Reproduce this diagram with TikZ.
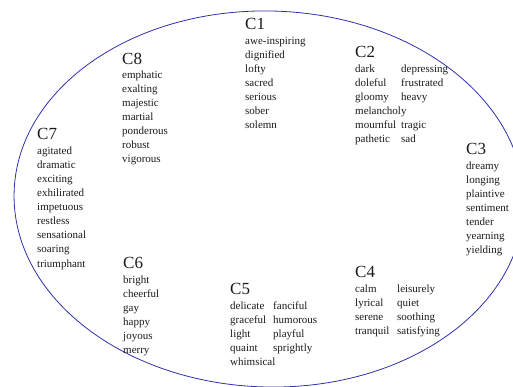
\documentclass[tikz,border=0pt]{standalone}
\usepackage{fontspec}
\setmainfont{Liberation Serif}
\usepackage{tikz}
\usetikzlibrary{positioning, calc}
\definecolor{rimA}{RGB}{48,48,170}
\definecolor{inkA}{HTML}{1A1A1A}
\tikzset{
  head/.style={
    anchor=base west, inner sep=0pt, text=inkA,
    font=\fontsize{17}{20}\selectfont
  },
  words/.style={
    anchor=base west, inner sep=0pt, text=inkA,
    font=\fontsize{11}{14}\selectfont
  },
  rim/.style={draw=rimA, line width=0.8pt}
}

\begin{document}
\begin{tikzpicture}[x=1pt, y=-1pt]
  \useasboundingbox (0,0) rectangle (513,387);
  \clip (0,0) rectangle (513,387);
  \draw[rim, rotate around={-1.5:(269,199)}] (269,199) ellipse [x radius=255, y radius=188];

  % cluster headings
  \node[head] (c1) at (245,30) {C1};
  \node[head] (c2) at (355,58) {C2};
  \node[head] (c3) at (466,155) {C3};
  \node[head] (c4) at (355,277) {C4};
  \node[head] (c5) at (230,294) {C5};
  \node[head] (c6) at (123,268) {C6};
  \node[head] (c7) at (37,140) {C7};
  \node[head] (c8) at (122,65) {C8};

  % adjective lists
  \node[words] (w1) at ([yshift=-15pt]c1.base west) {\begin{tabular}[t]{@{}l@{}}
    awe-inspiring\\ dignified\\ lofty\\ sacred\\ serious\\ sober\\ solemn
  \end{tabular}};
  \node[words] (w2) at ([yshift=-15pt]c2.base west) {\begin{tabular}[t]{@{}p{46pt}@{}l@{}}
    dark & depressing\\ doleful & frustrated\\ gloomy & heavy\\
    \multicolumn{2}{@{}l@{}}{melancholy}\\ mournful & tragic\\ pathetic & sad
  \end{tabular}};
  \node[words] (w3) at ([yshift=-15pt]c3.base west) {\begin{tabular}[t]{@{}l@{}}
    dreamy\\ longing\\ plaintive\\ sentiment\\ tender\\ yearning\\ yielding
  \end{tabular}};
  \node[words] (w4) at ([yshift=-15pt]c4.base west) {\begin{tabular}[t]{@{}p{42pt}@{}l@{}}
    calm & leisurely\\ lyrical & quiet\\ serene & soothing\\ tranquil & satisfying
  \end{tabular}};
  \node[words] (w5) at ([yshift=-15pt]c5.base west) {\begin{tabular}[t]{@{}p{43pt}@{}l@{}}
    delicate & fanciful\\ graceful & humorous\\ light & playful\\ quaint & sprightly\\
    \multicolumn{2}{@{}l@{}}{whimsical}
  \end{tabular}};
  \node[words] (w6) at ([yshift=-15pt]c6.base west) {\begin{tabular}[t]{@{}l@{}}
    bright\\ cheerful\\ gay\\ happy\\ joyous\\ merry
  \end{tabular}};
  \node[words] (w7) at ([yshift=-15pt]c7.base west) {\begin{tabular}[t]{@{}l@{}}
    agitated\\ dramatic\\ exciting\\ exhilirated\\ impetuous\\ restless\\
    sensational\\ soaring\\ triumphant
  \end{tabular}};
  \node[words] (w8) at ([yshift=-14pt]c8.base west) {\begin{tabular}[t]{@{}l@{}}
    emphatic\\ exalting\\ majestic\\ martial\\ ponderous\\ robust\\ vigorous
  \end{tabular}};
\end{tikzpicture}
\end{document}
